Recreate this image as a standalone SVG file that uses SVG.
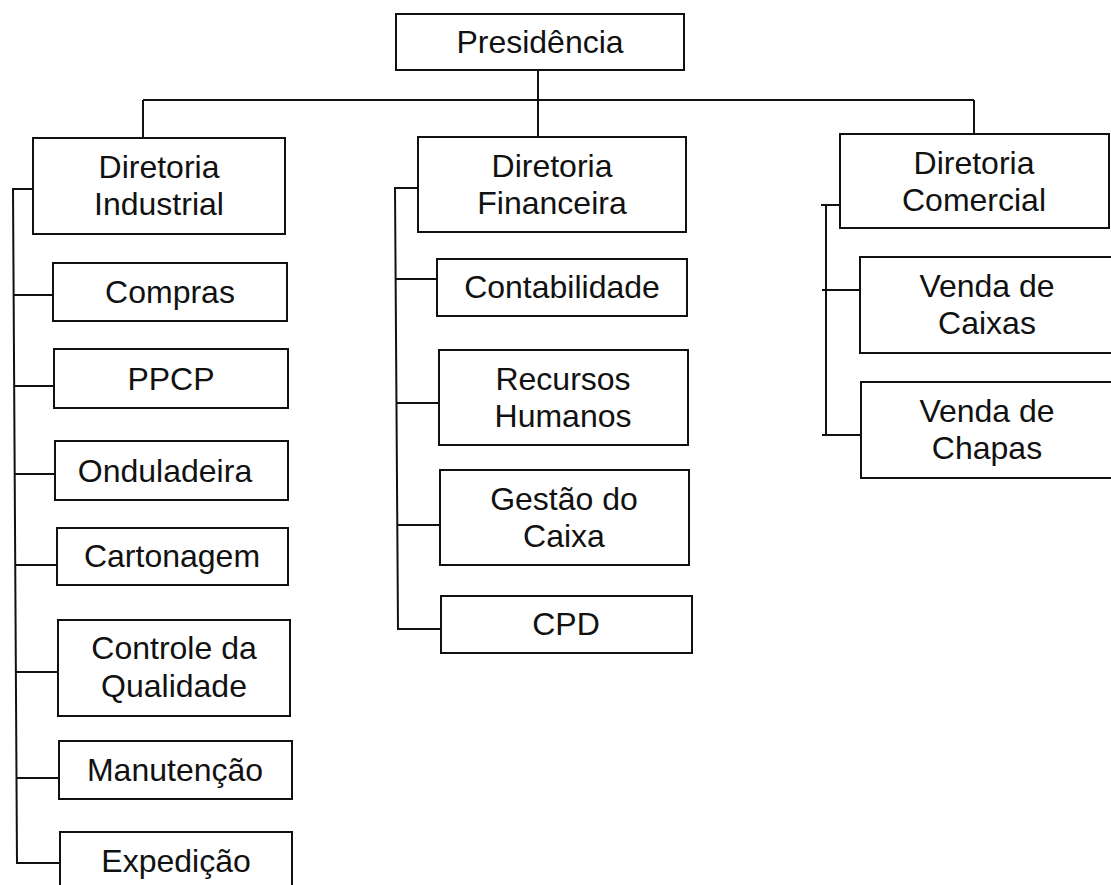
<svg xmlns="http://www.w3.org/2000/svg" width="1111" height="885" viewBox="0 0 1111 885">
<style>
.box{fill:#fff;stroke:#111;stroke-width:2}
.t{font-family:"Liberation Sans",Arial,sans-serif;font-size:32px;fill:#111;text-anchor:middle}
.c{fill:none;stroke:#111;stroke-width:2}
</style>
<rect width="1111" height="885" fill="#fff"/>
<g id="connectors">
<path class="c" d="M538 70V137M143 100H974M143 100V138M974 100V134"/>
<path class="c" d="M33 189H13L17 863H60M14 295H53M15 386H54M15 474H55M16 565H57M16 672H58M17 778H59"/>
<path class="c" d="M418 188H395L398 629H441M395 279H437M396 403H439M397 525H440"/>
<path class="c" d="M840 205H821M826 205V435H861M822 290H860M822 435H826"/>
</g>
<g id="presidencia"><rect class="box" x="396" y="14" width="288" height="56"/><text class="t" x="540" y="53">Presidência</text></g>
<g id="dir-industrial"><rect class="box" x="33" y="138" width="252" height="96"/><text class="t" x="159" y="178">Diretoria</text><text class="t" x="159" y="215">Industrial</text></g>
<g id="dir-financeira"><rect class="box" x="418" y="137" width="268" height="95"/><text class="t" x="552" y="177">Diretoria</text><text class="t" x="552" y="214">Financeira</text></g>
<g id="dir-comercial"><rect class="box" x="840" y="134" width="269" height="94"/><text class="t" x="974" y="174">Diretoria</text><text class="t" x="974" y="211">Comercial</text></g>
<g id="compras"><rect class="box" x="53" y="263" width="234" height="58"/><text class="t" x="170" y="303">Compras</text></g>
<g id="ppcp"><rect class="box" x="54" y="349" width="234" height="59"/><text class="t" x="171" y="390">PPCP</text></g>
<g id="onduladeira"><rect class="box" x="55" y="441" width="233" height="59"/><text class="t" x="165" y="482">Onduladeira</text></g>
<g id="cartonagem"><rect class="box" x="57" y="528" width="231" height="57"/><text class="t" x="172" y="567">Cartonagem</text></g>
<g id="controle"><rect class="box" x="58" y="620" width="232" height="96"/><text class="t" x="174" y="659">Controle da</text><text class="t" x="174" y="697">Qualidade</text></g>
<g id="manutencao"><rect class="box" x="59" y="741" width="233" height="58"/><text class="t" x="175" y="781">Manutenção</text></g>
<g id="expedicao"><rect class="box" x="60" y="832" width="232" height="70"/><text class="t" x="176" y="872">Expedição</text></g>
<g id="contabilidade"><rect class="box" x="437" y="259" width="250" height="57"/><text class="t" x="562" y="298">Contabilidade</text></g>
<g id="rh"><rect class="box" x="439" y="350" width="249" height="95"/><text class="t" x="563" y="390">Recursos</text><text class="t" x="563" y="427">Humanos</text></g>
<g id="gestao-caixa"><rect class="box" x="440" y="470" width="249" height="95"/><text class="t" x="564" y="510">Gestão do</text><text class="t" x="564" y="547">Caixa</text></g>
<g id="cpd"><rect class="box" x="441" y="596" width="251" height="57"/><text class="t" x="566" y="635">CPD</text></g>
<g id="venda-caixas"><rect class="box" x="860" y="257" width="254" height="96"/><text class="t" x="987" y="297">Venda de</text><text class="t" x="987" y="334">Caixas</text></g>
<g id="venda-chapas"><rect class="box" x="861" y="382" width="253" height="96"/><text class="t" x="987" y="422">Venda de</text><text class="t" x="987" y="459">Chapas</text></g>
</svg>
